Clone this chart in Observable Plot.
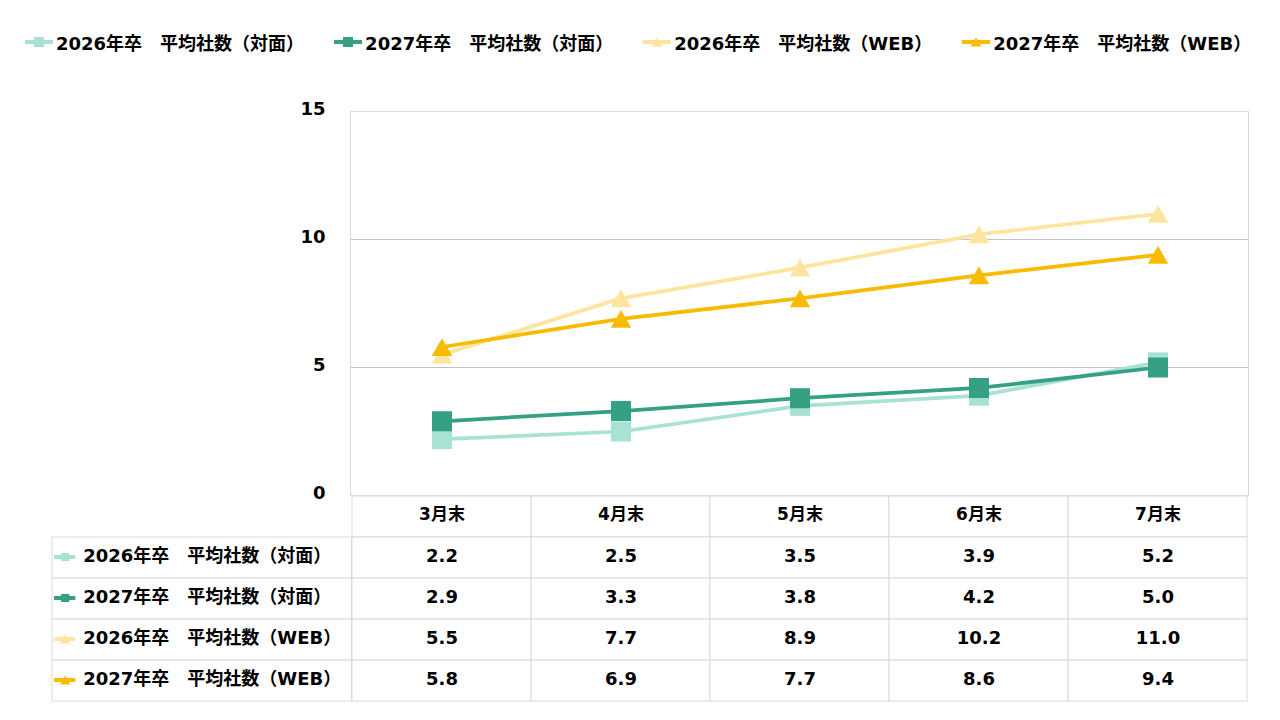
<!DOCTYPE html>
<html>
<head>
<meta charset="utf-8">
<script src="https://cdn.jsdelivr.net/npm/d3@7"></script>
<script src="https://cdn.jsdelivr.net/npm/@observablehq/plot@0.6"></script>
<style>
  html, body { margin: 0; padding: 0; background: white; }
  body { width: 1280px; height: 720px; overflow: hidden; font-family: "DejaVu Sans", "Noto Sans CJK JP", sans-serif; font-weight: bold; }
  #legend { position: relative; height: 70px; }
  #legend .row { position: absolute; top: 29px; left: 25px; height: 26px; display: flex; align-items: center; }
  #legend .item { display: flex; align-items: center; margin-right: 30px; font-size: 18px; color: #000; white-space: pre; }
  #legend svg { margin-right: 3px; }
  #chart svg, #table svg { display: block; overflow: visible; }
</style>
</head>
<body>
<div id="legend"><div class="row"></div></div>
<div id="chart"></div>
<div id="table"></div>
<script>
const months = ["3月末", "4月末", "5月末", "6月末", "7月末"];
const seriesNames = [
  "2026年卒　平均社数（対面）",
  "2027年卒　平均社数（対面）",
  "2026年卒　平均社数（WEB）",
  "2027年卒　平均社数（WEB）"
];
const face2026 = [2.2, 2.5, 3.5, 3.9, 5.2];
const face2027 = [2.9, 3.3, 3.8, 4.2, 5.0];
const web2026 = [5.5, 7.7, 8.9, 10.2, 11.0];
const web2027 = [5.8, 6.9, 7.7, 8.6, 9.4];
const seriesValues = [face2026, face2027, web2026, web2027];
const colors = ["#a8e2d4", "#35a084", "#fde49f", "#f8bb00"];
const symbols = ["square", "square", "triangle", "triangle"];
const yTicks = [0, 5, 10, 15];

const rows = seriesNames.flatMap((s, i) => months.map((m, j) => ({series: s, month: m, value: seriesValues[i][j]})));

const font = "'DejaVu Sans', 'Noto Sans CJK JP', sans-serif";
const colorScale = {domain: seriesNames, range: colors};
const symbolScale = {domain: seriesNames, range: symbols};

// Legend (HTML)
const legendRow = document.querySelector("#legend .row");
seriesNames.forEach((s, i) => {
  const item = document.createElement("div");
  item.className = "item";
  const c = colors[i];
  const marker = symbols[i] === "square"
    ? `<rect x="9" y="1" width="10" height="10" fill="${c}"/>`
    : `<polygon points="14,1.5 19.5,10.5 8.5,10.5" fill="${c}"/>`;
  item.innerHTML = `<svg width="28" height="12"><line x1="0" x2="28" y1="6" y2="6" stroke="${c}" stroke-width="4"/>${marker}</svg><span>${s}</span>`;
  legendRow.appendChild(item);
});

// Chart
const chart = Plot.plot({
  width: 1280,
  height: 425,
  marginTop: 41,
  marginBottom: 0,
  marginLeft: 350,
  marginRight: 32,
  style: {fontFamily: font, fontWeight: "bold", fontSize: "18px", color: "#000", background: "transparent", overflow: "visible"},
  x: {type: "band", domain: months, padding: 0, axis: null},
  y: {domain: [0, 15], ticks: yTicks, tickSize: 0, tickPadding: 25, label: null, axis: null},
  color: colorScale,
  symbol: symbolScale,
  marks: [
    Plot.axisY(yTicks, {tickSize: 0, tickPadding: 25, dy: -2, fontSize: 18, fontWeight: "bold", label: null}),
    Plot.ruleY(yTicks.filter(t => t > 0 && t < 15), {stroke: "#c4c4c4", strokeWidth: 1}),
    Plot.frame({stroke: "#d9d9d9"}),
    ...seriesNames.flatMap((s, i) => {
      const d = rows.filter(r => r.series === s);
      const isSq = symbols[i] === "square";
      return [
        Plot.line(d, {x: "month", y: "value", stroke: "series", strokeWidth: 3.75}),
        Plot.dot(d, {x: "month", y: "value", fill: "series", symbol: "series", r: isSq ? 11.3 : 7.6, dy: isSq ? 0 : 3})
      ];
    })
  ]
});
document.getElementById("chart").appendChild(chart);

// Data table
const colW = (1280 - 350 - 32) / months.length;
const table = Plot.plot({
  width: 1280,
  height: 225,
  marginTop: 0,
  marginBottom: 19,
  marginLeft: 350,
  marginRight: 32,
  style: {fontFamily: font, fontWeight: "bold", fontSize: "18px", color: "#000", background: "transparent", overflow: "visible"},
  x: {type: "band", domain: months, padding: 0, axis: null},
  y: {type: "band", domain: ["header", ...seriesNames], padding: 0, axis: null},
  color: colorScale,
  symbol: symbolScale,
  marks: [
    Plot.cell(months, {x: d => d, y: () => "header", fill: "white", stroke: "#d9d9d9"}),
    Plot.cell(rows, {x: "month", y: "series", fill: "white", stroke: "#d9d9d9"}),
    Plot.cell(seriesNames, {x: () => months[0], y: d => d, fill: "white", stroke: "#d9d9d9", insetLeft: -300, insetRight: colW}),
    Plot.text(months, {x: d => d, y: () => "header", text: d => d, fontSize: 17, fontWeight: "bold", dy: -2}),
    Plot.text(rows, {x: "month", y: "series", text: d => d.value.toFixed(1), fontSize: 18, fontWeight: "bold", dy: -2}),
    Plot.tickY(seriesNames, {x: () => months[0], y: d => d, stroke: d => d, strokeWidth: 4, insetLeft: -298, insetRight: 350 + colW - 74, dy: -1}),
    Plot.dot(seriesNames.filter((s, i) => symbols[i] === "square"), {x: () => months[0], y: d => d, fill: d => d, symbol: d => d, r: 4.6, dx: 63 - (350 + colW / 2), dy: -1}),
    Plot.dot(seriesNames.filter((s, i) => symbols[i] === "triangle"), {x: () => months[0], y: d => d, fill: d => d, symbol: d => d, r: 3.8, dx: 63 - (350 + colW / 2), dy: 0.5}),
    Plot.text(seriesNames, {x: () => months[0], y: d => d, text: d => d, textAnchor: "start", fontSize: 18, fontWeight: "bold", dx: 81 - (350 + colW / 2), dy: -2})
  ]
});
document.getElementById("table").appendChild(table);
</script>
</body>
</html>
